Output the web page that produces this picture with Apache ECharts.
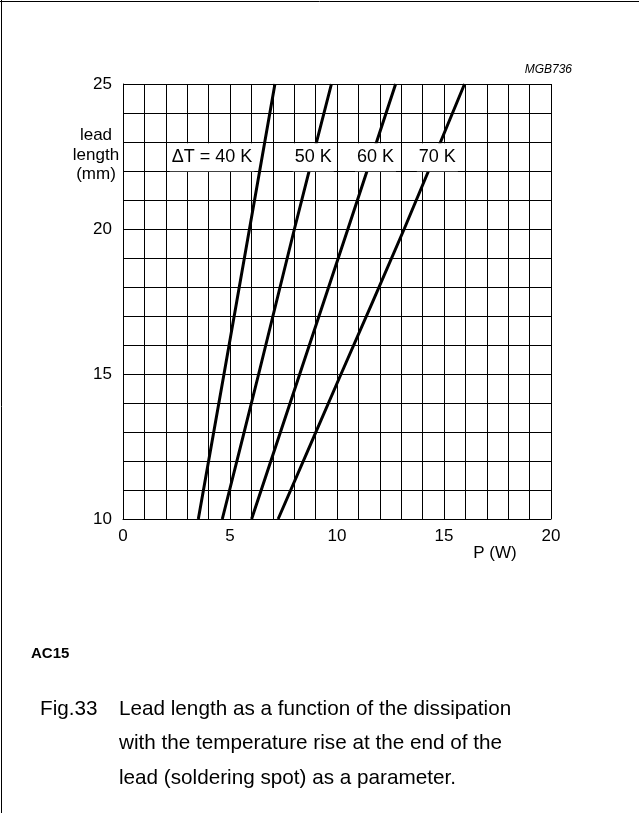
<!DOCTYPE html>
<html>
<head>
<meta charset="utf-8">
<script src="https://cdn.jsdelivr.net/npm/echarts@6/dist/echarts.min.js"></script>
<style>
  html, body { margin: 0; padding: 0; background: #fff; }
  #chart { width: 639px; height: 813px; }
</style>
</head>
<body>
<div id="chart"></div>
<script>
// ---- data ----
const leadLengths = [10, 15, 20, 25];          // mm
const power40K = [3.52, 4.72, 5.91, 7.10];      // W
const power50K = [4.64, 6.34, 8.01, 9.74];
const power60K = [6.01, 8.26, 10.51, 12.74];
const power70K = [7.25, 10.19, 13.14, 15.96];
const curveNames = ['ΔT = 40 K', '50 K', '60 K', '70 K'];
const xTickLabels = [0, 5, 10, 15, 20];
const yTickLabels = [10, 15, 20, 25];

// ---- annotation anchors (data units) ----
const curveLabelP = [4.16, 8.89, 11.80, 14.69];
const curveLabelLen = [22.47, 22.47, 22.47, 22.47];

const FONT = '"Liberation Sans", Arial, Helvetica, sans-serif';
const chart = echarts.init(document.getElementById('chart'), null, { renderer: 'canvas' });

const curves = [power40K, power50K, power60K, power70K];
const lineSeries = curves.map((pw, i) => ({
  type: 'line',
  name: curveNames[i],
  data: pw.map((p, k) => [p, leadLengths[k]]),
  showSymbol: false,
  smooth: 0.3,
  lineStyle: { color: '#000', width: 3 },
  z: 3,
  silent: true
}));

const staticGraphics = [
  { type: 'line', shape: { x1: 1.5, y1: 0, x2: 1.5, y2: 813 }, style: { stroke: '#000', lineWidth: 1 } },
  { type: 'line', shape: { x1: 0, y1: 1.5, x2: 639, y2: 1.5 }, style: { stroke: '#000', lineWidth: 1 } },
  { type: 'text', x: 96, y: 155, style: { text: 'lead\nlength\n(mm)', font: '17px ' + FONT, fill: '#000', textAlign: 'center', textVerticalAlign: 'middle', lineHeight: 19.5 } },
  { type: 'text', x: 495, y: 553, style: { text: 'P (W)', font: '17px ' + FONT, fill: '#000', textAlign: 'center', textVerticalAlign: 'middle' } },
  { type: 'text', x: 572, y: 70, style: { text: 'MGB736', font: 'italic 12px ' + FONT, fill: '#000', textAlign: 'right', textVerticalAlign: 'middle' } },
  { type: 'text', x: 31, y: 654, style: { text: 'AC15', font: 'bold 15px ' + FONT, fill: '#000', textAlign: 'left', textVerticalAlign: 'middle' } },
  { type: 'text', x: 40, y: 709, style: { text: 'Fig.33', font: '20.7px ' + FONT, fill: '#000', textAlign: 'left', textVerticalAlign: 'middle' } },
  { type: 'text', x: 119, y: 743.5, style: { text: 'Lead length as a function of the dissipation\nwith the temperature rise at the end of the\nlead (soldering spot) as a parameter.', font: '20.7px ' + FONT, fill: '#000', textAlign: 'left', textVerticalAlign: 'middle', lineHeight: 34.5 } }
];

const option = {
  backgroundColor: '#fff',
  animation: false,
  grid: { left: 123, right: 88, top: 84, bottom: 294, containLabel: false },
  xAxis: {
    type: 'value', min: 0, max: 20, interval: 1,
    axisLine: { show: true, lineStyle: { color: '#000', width: 1 } },
    axisTick: { show: false },
    splitLine: { show: true, lineStyle: { color: '#000', width: 1 } },
    axisLabel: {
      margin: 9, fontFamily: FONT, fontSize: 17, color: '#000',
      formatter: v => (xTickLabels.indexOf(v) >= 0 ? String(v) : '')
    }
  },
  yAxis: {
    type: 'value', min: 10, max: 25, interval: 1,
    axisLine: { show: true, lineStyle: { color: '#000', width: 1 } },
    axisTick: { show: false },
    splitLine: { show: true, lineStyle: { color: '#000', width: 1 } },
    axisLabel: {
      margin: 11, fontFamily: FONT, fontSize: 17, color: '#000',
      formatter: v => (yTickLabels.indexOf(v) >= 0 ? String(v) : '')
    }
  },
  series: lineSeries,
  graphic: staticGraphics
};
chart.setOption(option);

// curve labels placed through the chart's own scales
const labelGraphics = curveNames.map((n, i) => {
  const pt = chart.convertToPixel({ gridIndex: 0 }, [curveLabelP[i], curveLabelLen[i]]);
  return {
    type: 'text', x: pt[0], y: pt[1], z: 100,
    style: {
      text: n, font: '18px ' + FONT, fill: '#000',
      textAlign: 'center', textVerticalAlign: 'middle',
      backgroundColor: '#fff', padding: [5, 2, 5, 2]
    }
  };
});
chart.setOption({ graphic: staticGraphics.concat(labelGraphics) });
</script>
</body>
</html>
